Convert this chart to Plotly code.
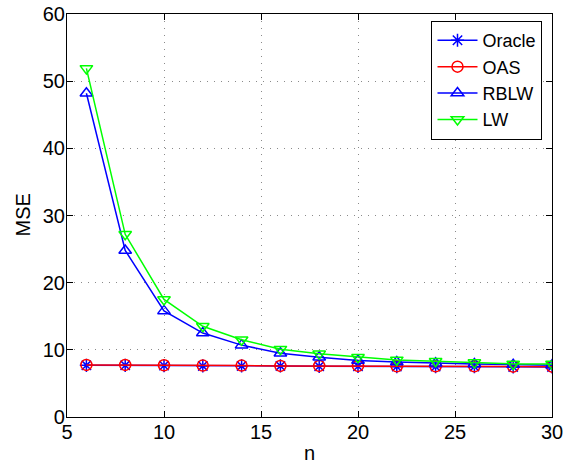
import plotly.graph_objects as go

n = [6, 8, 10, 12, 14, 16, 18, 20, 22, 24, 26, 28, 30]
oracle = [7.7, 7.7, 7.65, 7.6, 7.6, 7.6, 7.55, 7.55, 7.5, 7.5, 7.5, 7.45, 7.45]
oas = [7.75, 7.75, 7.7, 7.65, 7.65, 7.6, 7.6, 7.6, 7.55, 7.55, 7.55, 7.5, 7.5]
rblw = [48.2, 24.8, 15.8, 12.5, 10.7, 9.5, 8.9, 8.4, 8.2, 8.0, 7.9, 7.8, 7.7]
lw = [51.9, 27.2, 17.5, 13.5, 11.5, 10.1, 9.4, 8.9, 8.5, 8.3, 8.1, 7.9, 7.9]

series = [
    ("Oracle", oracle, "#0000ff", "asterisk-open"),
    ("OAS", oas, "#ff0000", "circle-open"),
    ("RBLW", rblw, "#0000ff", "triangle-up-open"),
    ("LW", lw, "#00ff00", "triangle-down-open"),
]

FONT = "Liberation Sans, Arial, Helvetica"

fig = go.Figure()
for name, vals, col, sym in series:
    fig.add_trace(go.Scatter(
        x=n, y=vals, name=name, mode="lines+markers",
        line=dict(color=col, width=1.5),
        marker=dict(symbol=sym, size=11, color=col, line=dict(color=col, width=1.5)),
    ))

axis_common = dict(
    showline=True, linecolor="black", linewidth=1.2, mirror="ticks",
    ticks="inside", ticklen=6, tickcolor="black", tickwidth=1,
    showgrid=True, gridcolor="#8a8a8a", griddash="1px,6px", gridwidth=1,
    zeroline=False, automargin=False, ticklabelstandoff=-3,
    tickfont=dict(family=FONT, size=20, color="black"),
)

fig.update_xaxes(range=[5, 30], dtick=5, **axis_common)
fig.update_yaxes(range=[0, 60], dtick=10, **axis_common)

fig.add_annotation(text="n", xref="paper", yref="paper", x=0.5, y=0,
                   xanchor="center", yanchor="middle", yshift=-36, showarrow=False,
                   font=dict(family=FONT, size=20, color="black"))
fig.add_annotation(text="MSE", xref="paper", yref="paper", x=0, y=0.5,
                   xanchor="center", yanchor="middle", xshift=-45, textangle=-90,
                   showarrow=False, font=dict(family=FONT, size=20, color="black"))

fig.update_layout(
    width=566, height=463,
    margin=dict(l=67, r=14, t=14, b=46),
    paper_bgcolor="white", plot_bgcolor="white",
    font=dict(family=FONT, size=20, color="black"),
    legend=dict(x=0.98, y=0.983, xanchor="right", yanchor="top",
                bordercolor="black", borderwidth=1.2, bgcolor="white",
                font=dict(family=FONT, size=18, color="black"),
                tracegroupgap=0, itemwidth=40),
    showlegend=True,
)

fig.write_html("out.html", config={"displayModeBar": False},
               post_script="document.body.style.margin='0';document.body.style.overflow='hidden';")
